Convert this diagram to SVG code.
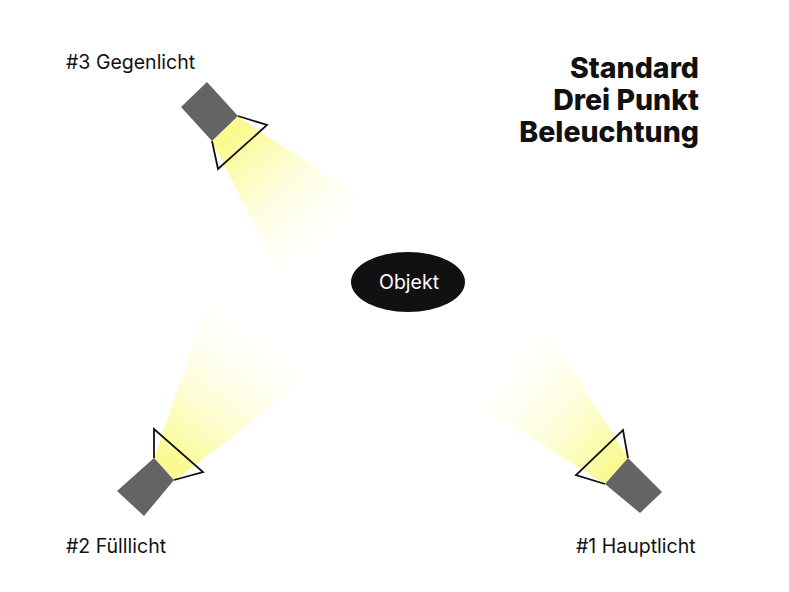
<svg xmlns="http://www.w3.org/2000/svg" width="789" height="592" viewBox="0 0 789 592">
<style>
.box{fill:#646464}
.door{fill:none;stroke:#111;stroke-width:1.8;stroke-linejoin:miter}
.lbl{font-family:"Inter","Liberation Sans",sans-serif;font-size:19.5px;fill:#111}
.ttl{font-family:"Inter","Liberation Sans",sans-serif;font-size:28.5px;font-weight:800;fill:#111;text-anchor:end}
</style>
<defs>
<linearGradient id="g3" gradientUnits="userSpaceOnUse" x1="230" y1="140" x2="330" y2="250"><stop offset="0" stop-color="#fafa90"/><stop offset="1" stop-color="#fffff0" stop-opacity="0"/></linearGradient>
<linearGradient id="g2" gradientUnits="userSpaceOnUse" x1="170" y1="460" x2="270" y2="330"><stop offset="0" stop-color="#fafa90"/><stop offset="1" stop-color="#fffff0" stop-opacity="0"/></linearGradient>
<linearGradient id="g1" gradientUnits="userSpaceOnUse" x1="620" y1="460" x2="500" y2="360"><stop offset="0" stop-color="#fafa90"/><stop offset="1" stop-color="#fffff0" stop-opacity="0"/></linearGradient>
</defs>
<rect width="789" height="592" fill="#fff"/>
<g id="beams">
<polygon points="212,141 238,117 380,210 285,285" fill="url(#g3)"/>
<polygon points="154,459 175,480 320,370 210,295" fill="url(#g2)"/>
<polygon points="605,484 628,458 540,320 455,390" fill="url(#g1)"/>
</g>
<g id="light3">
<polygon class="box" points="207,82 181,107 212,141 238,116"/>
<polyline class="door" points="238,116 267,125 218,169 212,141"/>
</g>
<g id="light2">
<polygon class="box" points="154,458 174,480 144,516 117,491"/>
<polyline class="door" points="154,458 154,429 203,472 174,480"/>
</g>
<g id="light1">
<polygon class="box" points="628,458 662,492 640,513 605,484"/>
<polyline class="door" points="605,484 576,475 623,430 628,458"/>
</g>
<g id="objekt">
<ellipse cx="408" cy="282" rx="57" ry="30" fill="#111"/>
<text x="409" y="289" class="lbl" style="fill:#fff" text-anchor="middle">Objekt</text>
</g>
<g id="labels">
<text x="66" y="69" class="lbl">#3 Gegenlicht</text>
<text x="66" y="553" class="lbl">#2 Fülllicht</text>
<text x="576" y="553" class="lbl">#1 Hauptlicht</text>
</g>
<g id="title">
<text x="699" y="78" class="ttl">Standard</text>
<text x="699" y="110" class="ttl">Drei Punkt</text>
<text x="699" y="142" class="ttl">Beleuchtung</text>
</g>
</svg>
